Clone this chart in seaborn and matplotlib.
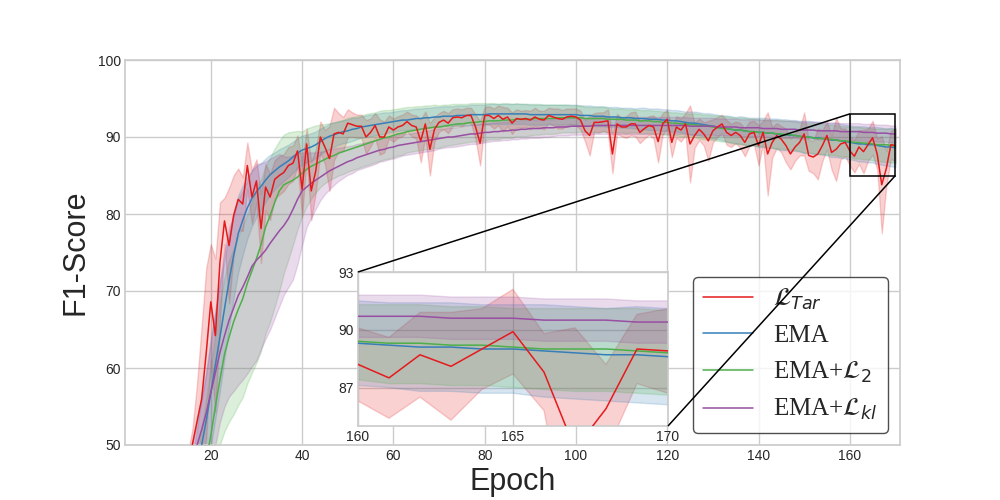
import numpy as np
import pandas as pd
import matplotlib
matplotlib.use("Agg")
import matplotlib.pyplot as plt
import seaborn as sns
from matplotlib.font_manager import FontProperties
from mpl_toolkits.axes_grid1.inset_locator import mark_inset

# epochs 15..170 (earlier epochs are below the y range)
epochs = list(range(15, 171))

red_mean = [47.0, 50.2, 53.1, 56.0, 62.0, 68.6, 64.2, 73.7, 79.1, 75.9,
            79.8, 81.9, 81.3, 86.3, 82.2, 84.3, 78.1, 83.5, 82.2, 84.5,
            85.0, 85.4, 86.3, 86.6, 88.2, 83.2, 89.1, 83.0, 85.6, 90.0,
            88.7, 87.2, 90.4, 90.6, 90.4, 91.8, 91.6, 91.4, 91.4, 90.0,
            90.6, 91.5, 90.0, 90.0, 91.3, 90.9, 91.3, 91.5, 92.0, 91.5,
            91.3, 89.5, 91.7, 88.4, 91.0, 91.9, 92.2, 91.8, 92.5, 92.6,
            92.5, 92.8, 92.8, 91.3, 89.2, 92.8, 92.8, 92.4, 92.8, 92.3,
            92.6, 91.8, 92.4, 92.3, 92.4, 92.2, 92.6, 92.3, 92.2, 92.8,
            92.6, 92.4, 92.3, 92.6, 92.7, 92.6, 92.2, 90.8, 90.2, 91.9,
            91.9, 92.0, 92.1, 87.8, 91.7, 91.3, 91.3, 91.7, 91.7, 90.6,
            91.1, 91.5, 91.3, 89.4, 91.7, 92.3, 89.3, 91.3, 90.9, 91.7,
            89.1, 90.2, 91.0, 90.4, 89.5, 90.8, 91.3, 91.7, 90.6, 90.2,
            90.6, 90.2, 89.3, 90.4, 90.6, 88.9, 90.6, 87.8, 89.3, 90.2,
            89.7, 88.9, 87.8, 88.7, 89.3, 90.4, 87.6, 87.4, 87.8, 88.9,
            90.2, 88.0, 88.4, 89.1, 89.3, 88.2, 87.5, 88.7, 88.1, 89.0,
            89.9, 87.8, 83.8, 85.9, 89.0, 88.9]
red_sd = [2.0, 2.0, 5.0, 9.5, 11.0, 7.5, 10.0, 7.8, 3.0, 7.5,
          5.2, 4.0, 3.5, 3.0, 3.5, 2.8, 4.5, 3.0, 3.0, 2.5,
          2.5, 2.4, 2.4, 2.3, 2.0, 3.5, 2.0, 3.8, 2.8, 2.0,
          2.2, 4.2, 3.4, 2.5, 2.2, 1.8, 1.6, 1.5, 1.5, 2.2,
          1.8, 1.6, 2.3, 2.0, 1.5, 1.5, 1.4, 1.4, 1.3, 1.4,
          1.5, 2.8, 1.6, 3.4, 1.6, 1.2, 1.2, 1.3, 1.1, 1.1,
          1.1, 1.0, 1.0, 1.6, 2.9, 1.1, 1.2, 1.3, 1.3, 1.6,
          1.2, 1.4, 1.2, 1.1, 1.1, 1.2, 1.2, 1.1, 1.2, 1.0,
          1.1, 1.3, 1.2, 1.1, 1.0, 1.1, 1.2, 1.4, 2.6, 1.2,
          1.3, 1.2, 1.5, 2.5, 1.3, 1.2, 1.4, 1.5, 1.6, 1.4,
          1.3, 1.2, 1.5, 2.7, 1.4, 1.2, 1.9, 1.4, 1.5, 1.4,
          5.0, 1.6, 1.4, 1.5, 2.6, 1.5, 1.3, 1.2, 1.6, 1.5,
          1.4, 1.6, 1.8, 1.6, 1.5, 2.6, 1.5, 5.4, 2.0, 1.6,
          1.7, 2.2, 2.0, 1.8, 1.7, 2.8, 2.0, 2.1, 3.3, 2.0,
          1.8, 2.2, 4.1, 2.0, 1.8, 1.9, 2.1, 2.2, 2.8, 2.1,
          2.2, 2.0, 6.3, 2.3, 1.8, 2.2]

ema_mean = [42.0, 44.5, 47.2, 50.0, 53.2, 56.8, 60.4, 64.0, 67.7, 71.3,
            74.6, 77.4, 79.2, 80.8, 82.0, 82.9, 83.6, 84.4, 85.1, 85.6,
            86.1, 86.5, 86.9, 87.4, 87.9, 88.3, 88.5, 88.7, 89.0, 89.4,
            89.8, 90.1, 90.3, 90.5, 90.7, 90.8, 91.0, 91.1, 91.3, 91.4,
            91.5, 91.6, 91.7, 91.8, 91.9, 92.0, 92.1, 92.2, 92.2, 92.3,
            92.4, 92.4, 92.5, 92.5, 92.6, 92.6, 92.7, 92.7, 92.7, 92.8,
            92.8, 92.8, 92.9, 92.9, 92.9, 92.9, 93.0, 93.0, 93.0, 93.0,
            93.0, 93.0, 93.0, 93.0, 93.0, 92.9, 92.9, 92.9, 92.9, 92.9,
            92.9, 92.9, 92.9, 92.9, 92.9, 92.9, 92.8, 92.8, 92.8, 92.7,
            92.7, 92.7, 92.6, 92.6, 92.6, 92.5, 92.5, 92.5, 92.4, 92.4,
            92.4, 92.3, 92.3, 92.3, 92.2, 92.2, 92.1, 92.1, 92.0, 91.9,
            91.8, 91.8, 91.7, 91.6, 91.5, 91.4, 91.3, 91.2, 91.1, 91.0,
            90.9, 90.9, 90.8, 90.7, 90.7, 90.6, 90.6, 90.5, 90.5, 90.4,
            90.3, 90.3, 90.2, 90.2, 90.1, 90.0, 90.0, 89.9, 89.9, 89.8,
            89.7, 89.6, 89.6, 89.5, 89.4, 89.3, 89.2, 89.1, 89.1, 89.0,
            89.0, 88.9, 88.8, 88.7, 88.7, 88.6]
ema_sd = [3.0, 4.0, 5.0, 6.0, 6.5, 7.0, 7.0, 7.0, 6.5, 6.0,
          5.5, 5.0, 4.5, 4.0, 3.6, 3.3, 3.0, 2.8, 2.6, 2.4,
          2.3, 2.2, 2.1, 2.0, 1.9, 1.9, 1.8, 1.8, 1.7, 1.7,
          1.6, 1.6, 1.6, 1.5, 1.5, 1.5, 1.5, 1.4, 1.4, 1.4,
          1.4, 1.4, 1.4, 1.4, 1.3, 1.3, 1.3, 1.3, 1.3, 1.3,
          1.3, 1.3, 1.3, 1.3, 1.3, 1.3, 1.3, 1.3, 1.3, 1.3,
          1.3, 1.3, 1.3, 1.3, 1.3, 1.3, 1.3, 1.3, 1.3, 1.3,
          1.3, 1.3, 1.3, 1.3, 1.3, 1.3, 1.3, 1.3, 1.3, 1.3,
          1.3, 1.3, 1.3, 1.3, 1.3, 1.3, 1.3, 1.3, 1.3, 1.3,
          1.3, 1.3, 1.3, 1.3, 1.3, 1.3, 1.3, 1.3, 1.3, 1.4,
          1.4, 1.4, 1.4, 1.4, 1.4, 1.4, 1.4, 1.4, 1.4, 1.4,
          1.5, 1.5, 1.5, 1.5, 1.6, 1.6, 1.6, 1.6, 1.7, 1.7,
          1.7, 1.8, 1.8, 1.8, 1.8, 1.9, 1.9, 1.9, 1.9, 2.0,
          2.0, 2.0, 2.0, 2.0, 2.0, 2.1, 2.1, 2.1, 2.1, 2.1,
          2.1, 2.2, 2.2, 2.2, 2.2, 2.2, 2.2, 2.3, 2.3, 2.3,
          2.3, 2.4, 2.4, 2.4, 2.5, 2.5]

l2_mean = [36.5, 39.5, 42.5, 45.2, 48.0, 51.2, 55.0, 58.5, 61.8, 64.0,
           66.0, 67.6, 69.0, 71.0, 72.6, 74.2, 76.0, 78.3, 79.8, 81.5,
           83.0, 83.8, 84.1, 84.4, 84.8, 85.3, 85.8, 86.2, 86.5, 86.8,
           87.1, 87.4, 87.6, 87.9, 88.1, 88.3, 88.5, 88.7, 88.9, 89.1,
           89.3, 89.5, 89.7, 89.9, 90.0, 90.2, 90.4, 90.5, 90.7, 90.8,
           90.9, 91.0, 91.1, 91.2, 91.3, 91.3, 91.4, 91.5, 91.6, 91.7,
           91.7, 91.8, 91.9, 91.9, 92.0, 92.0, 92.1, 92.1, 92.1, 92.2,
           92.2, 92.2, 92.3, 92.3, 92.3, 92.3, 92.4, 92.4, 92.4, 92.4,
           92.4, 92.5, 92.5, 92.5, 92.5, 92.5, 92.5, 92.4, 92.4, 92.4,
           92.4, 92.4, 92.3, 92.3, 92.3, 92.3, 92.2, 92.2, 92.2, 92.1,
           92.1, 92.1, 92.0, 92.0, 91.9, 91.9, 91.8, 91.8, 91.7, 91.7,
           91.6, 91.6, 91.5, 91.4, 91.4, 91.3, 91.2, 91.1, 91.1, 91.0,
           90.9, 90.9, 90.8, 90.7, 90.7, 90.6, 90.6, 90.5, 90.5, 90.4,
           90.4, 90.3, 90.3, 90.2, 90.1, 90.0, 90.0, 89.9, 89.8, 89.8,
           89.7, 89.7, 89.6, 89.5, 89.5, 89.4, 89.3, 89.3, 89.2, 89.2,
           89.1, 89.0, 89.0, 89.0, 88.9, 88.8]
l2_down = [6.5, 7.0, 7.5, 8.0, 8.0, 8.5, 8.5, 8.5, 10.0, 11.0,
           12.0, 12.4, 12.8, 13.0, 13.2, 13.5, 13.8, 13.8, 13.8, 13.5,
           13.0, 11.5, 10.0, 8.4, 6.8, 5.6, 4.8, 4.2, 3.7, 3.3,
           3.1, 3.0, 2.9, 2.9, 2.9, 2.8, 2.8, 2.8, 2.8, 2.8,
           2.8, 2.8, 2.8, 2.8, 2.8, 2.8, 2.8, 2.8, 2.7, 2.7,
           2.7, 2.7, 2.7, 2.7, 2.7, 2.7, 2.6, 2.6, 2.6, 2.6,
           2.5, 2.5, 2.5, 2.5, 2.5, 2.5, 2.4, 2.4, 2.4, 2.3,
           2.3, 2.3, 2.2, 2.2, 2.2, 2.1, 2.1, 2.1, 2.0, 2.0,
           2.0, 2.0, 1.9, 1.9, 1.9, 1.9, 1.8, 1.8, 1.8, 1.8,
           1.8, 1.7, 1.7, 1.7, 1.7, 1.7, 1.7, 1.6, 1.6, 1.6,
           1.6, 1.6, 1.6, 1.6, 1.6, 1.6, 1.6, 1.6, 1.6, 1.6,
           1.6, 1.6, 1.7, 1.7, 1.7, 1.7, 1.7, 1.7, 1.7, 1.8,
           1.8, 1.8, 1.8, 1.8, 1.8, 1.8, 1.8, 1.9, 1.9, 1.9,
           1.9, 1.9, 1.9, 1.9, 1.9, 2.0, 2.0, 2.0, 2.0, 2.0,
           2.0, 2.0, 2.0, 2.0, 2.0, 2.0, 2.1, 2.1, 2.1, 2.1,
           2.1, 2.1, 2.2, 2.2, 2.2, 2.2]
l2_up = [4.0, 5.0, 6.0, 7.0, 8.0, 9.0, 9.5, 10.0, 10.0, 10.0,
         9.5, 9.5, 9.5, 9.0, 9.0, 9.0, 8.5, 8.0, 7.5, 7.0,
         6.5, 6.5, 6.5, 6.3, 6.0, 5.4, 5.3, 5.1, 5.0, 4.8,
         4.6, 4.4, 4.3, 4.2, 4.1, 4.2, 4.1, 4.0, 3.9, 3.9,
         3.8, 3.7, 3.7, 3.6, 3.5, 3.4, 3.3, 3.3, 3.2, 3.1,
         3.1, 3.0, 3.0, 2.9, 2.9, 2.8, 2.8, 2.7, 2.7, 2.6,
         2.6, 2.5, 2.5, 2.5, 2.4, 2.4, 2.3, 2.3, 2.2, 2.2,
         2.2, 2.1, 2.1, 2.0, 2.0, 2.0, 1.9, 1.9, 1.8, 1.8,
         1.8, 1.7, 1.7, 1.7, 1.6, 1.6, 1.6, 1.5, 1.5, 1.5,
         1.5, 1.5, 1.5, 1.4, 1.4, 1.4, 1.4, 1.4, 1.4, 1.4,
         1.4, 1.4, 1.4, 1.4, 1.4, 1.4, 1.4, 1.4, 1.4, 1.4,
         1.4, 1.5, 1.5, 1.5, 1.5, 1.5, 1.6, 1.6, 1.6, 1.6,
         1.6, 1.6, 1.7, 1.7, 1.7, 1.7, 1.7, 1.7, 1.7, 1.8,
         1.8, 1.8, 1.8, 1.8, 1.8, 1.8, 1.8, 1.9, 1.9, 1.9,
         1.9, 1.9, 1.9, 1.9, 1.9, 1.9, 2.0, 2.0, 2.0, 2.0,
         2.0, 2.1, 2.1, 2.1, 2.2, 2.2]

kl_mean = [45.5, 47.8, 50.0, 52.0, 54.2, 56.8, 59.4, 62.0, 64.2, 66.2,
           67.8, 69.4, 70.5, 71.8, 73.2, 74.0, 74.6, 75.3, 76.2, 77.0,
           77.8, 78.5, 79.4, 80.6, 81.9, 83.0, 83.5, 84.0, 84.4, 84.8,
           85.2, 85.6, 85.9, 86.2, 86.5, 86.8, 87.0, 87.3, 87.5, 87.7,
           87.9, 88.1, 88.3, 88.4, 88.6, 88.7, 88.9, 89.0, 89.1, 89.2,
           89.3, 89.4, 89.5, 89.6, 89.7, 89.8, 89.9, 90.0, 90.0, 90.1,
           90.2, 90.3, 90.4, 90.4, 90.5, 90.6, 90.6, 90.7, 90.7, 90.8,
           90.8, 90.9, 90.9, 91.0, 91.0, 91.1, 91.1, 91.1, 91.2, 91.2,
           91.2, 91.3, 91.3, 91.3, 91.4, 91.4, 91.4, 91.4, 91.4, 91.5,
           91.5, 91.5, 91.5, 91.5, 91.5, 91.5, 91.5, 91.5, 91.5, 91.5,
           91.5, 91.5, 91.5, 91.5, 91.5, 91.5, 91.5, 91.5, 91.5, 91.5,
           91.4, 91.4, 91.4, 91.4, 91.4, 91.4, 91.3, 91.3, 91.3, 91.3,
           91.3, 91.2, 91.2, 91.2, 91.2, 91.2, 91.1, 91.1, 91.1, 91.1,
           91.0, 91.0, 91.0, 91.0, 90.9, 90.9, 90.9, 90.9, 90.8, 90.8,
           90.8, 90.8, 90.8, 90.7, 90.7, 90.7, 90.7, 90.7, 90.6, 90.6,
           90.6, 90.5, 90.5, 90.5, 90.4, 90.4]
kl_down = [7.5, 7.8, 8.0, 8.0, 8.7, 9.8, 9.4, 9.0, 9.2, 9.9,
           10.8, 11.6, 12.0, 12.5, 13.0, 13.0, 12.1, 11.5, 11.2, 10.5,
           9.8, 9.0, 8.9, 9.1, 8.4, 7.0, 5.2, 4.5, 3.7, 3.0,
           2.6, 2.4, 2.1, 1.9, 1.8, 1.7, 1.7, 1.6, 1.6, 1.6,
           1.6, 1.6, 1.5, 1.5, 1.5, 1.5, 1.5, 1.4, 1.4, 1.4,
           1.4, 1.4, 1.4, 1.4, 1.4, 1.3, 1.3, 1.3, 1.3, 1.3,
           1.3, 1.3, 1.3, 1.3, 1.3, 1.3, 1.2, 1.2, 1.2, 1.2,
           1.2, 1.2, 1.2, 1.2, 1.2, 1.2, 1.2, 1.2, 1.2, 1.2,
           1.1, 1.1, 1.1, 1.1, 1.1, 1.1, 1.1, 1.1, 1.1, 1.1,
           1.1, 1.1, 1.1, 1.1, 1.1, 1.1, 1.1, 1.1, 1.1, 1.1,
           1.1, 1.1, 1.1, 1.1, 1.1, 1.1, 1.1, 1.1, 1.1, 1.1,
           1.1, 1.1, 1.1, 1.1, 1.1, 1.1, 1.1, 1.1, 1.1, 1.1,
           1.1, 1.1, 1.1, 1.1, 1.1, 1.1, 1.1, 1.1, 1.1, 1.1,
           1.1, 1.1, 1.1, 1.1, 1.1, 1.1, 1.1, 1.1, 1.1, 1.1,
           1.1, 1.1, 1.1, 1.1, 1.1, 1.1, 1.1, 1.1, 1.1, 1.1,
           1.1, 1.1, 1.1, 1.1, 1.1, 1.1]
kl_up = [2.0, 2.5, 3.0, 4.0, 5.0, 6.5, 8.0, 9.5, 11.0, 12.0,
         12.0, 12.5, 12.5, 12.5, 12.5, 12.5, 12.0, 11.5, 11.0, 10.5,
         10.0, 9.0, 8.0, 7.0, 6.0, 5.0, 4.5, 4.0, 3.6, 3.3,
         3.0, 2.8, 2.6, 2.4, 2.2, 2.0, 1.9, 1.8, 1.7, 1.6,
         1.6, 1.5, 1.5, 1.5, 1.4, 1.4, 1.4, 1.4, 1.3, 1.3,
         1.3, 1.3, 1.3, 1.3, 1.3, 1.3, 1.2, 1.2, 1.2, 1.2,
         1.2, 1.2, 1.2, 1.2, 1.2, 1.2, 1.2, 1.2, 1.2, 1.2,
         1.2, 1.2, 1.2, 1.2, 1.2, 1.2, 1.1, 1.1, 1.1, 1.1,
         1.1, 1.1, 1.1, 1.1, 1.1, 1.1, 1.1, 1.1, 1.1, 1.1,
         1.1, 1.1, 1.1, 1.1, 1.1, 1.1, 1.1, 1.1, 1.1, 1.1,
         1.1, 1.1, 1.1, 1.1, 1.1, 1.1, 1.1, 1.1, 1.1, 1.1,
         1.1, 1.1, 1.1, 1.1, 1.1, 1.1, 1.1, 1.1, 1.1, 1.1,
         1.1, 1.1, 1.1, 1.1, 1.1, 1.1, 1.1, 1.1, 1.1, 1.1,
         1.1, 1.1, 1.1, 1.1, 1.1, 1.1, 1.1, 1.1, 1.1, 1.1,
         1.1, 1.1, 1.1, 1.1, 1.1, 1.1, 1.1, 1.1, 1.1, 1.1,
         1.1, 1.1, 1.1, 1.1, 1.1, 1.1]

labels = [r'$\mathcal{L}_{Tar}$', 'EMA', r'EMA+$\mathcal{L}_2$', r'EMA+$\mathcal{L}_{kl}$']
colors = ['#e41a1c', '#377eb8', '#4daf4a', '#984ea3']

ep = np.array(epochs)
series = [
    (np.array(red_mean), np.array(red_sd), np.array(red_sd)),
    (np.array(ema_mean), np.array(ema_sd), np.array(ema_sd)),
    (np.array(l2_mean), np.array(l2_down), np.array(l2_up)),
    (np.array(kl_mean), np.array(kl_down), np.array(kl_up)),
]

sns.set_theme(style="whitegrid")
plt.rcParams['font.family'] = ['Liberation Sans', 'DejaVu Sans']

fig = plt.figure(figsize=(10, 5), dpi=100)
ax = fig.add_axes([0.125, 0.11, 0.775, 0.77])
axins = fig.add_axes([0.358, 0.148, 0.31, 0.308])


def draw(a, legend):
    handles = []
    for i, (m, dn, up) in enumerate(series):
        z = 5 if i == 0 else 3
        a.fill_between(ep, m - dn, m + up, color=colors[i], alpha=0.2, zorder=2)
        sns.lineplot(x=ep, y=m, color=colors[i], linewidth=1.1, ax=a, zorder=z,
                     label=labels[i] if legend else None, legend=False)
        handles.append(a.lines[-1])
    return handles


handles = draw(ax, True)
draw(axins, False)

ax.set_xlim(1.2, 171)
ax.set_ylim(50, 100)
ax.set_xticks([20, 40, 60, 80, 100, 120, 140, 160])
ax.set_yticks([50, 60, 70, 80, 90, 100])
ax.tick_params(labelsize=10, length=0, pad=3)
ax.set_xlabel('Epoch', fontsize=22, labelpad=3)
ax.set_ylabel('F1-Score', fontsize=22, labelpad=5)

axins.set_xlim(160, 170)
axins.set_ylim(85, 93)
axins.set_xticks([160, 165, 170])
axins.set_yticks([87, 90, 93])
axins.tick_params(labelsize=10, length=0, pad=3)
axins.set_xlabel('')
axins.set_ylabel('')

mark_inset(ax, axins, loc1=2, loc2=4, fc='none', ec='black', lw=1.1, zorder=6)

leg = ax.legend(handles, labels, loc='lower right', frameon=True, fancybox=True,
                framealpha=0.8, edgecolor='#222222',
                prop=FontProperties(family='Liberation Serif', size=18))
for h in leg.get_lines():
    h.set_linewidth(1.1)
leg.set_zorder(10)

fig.savefig('out.png', dpi=100)
